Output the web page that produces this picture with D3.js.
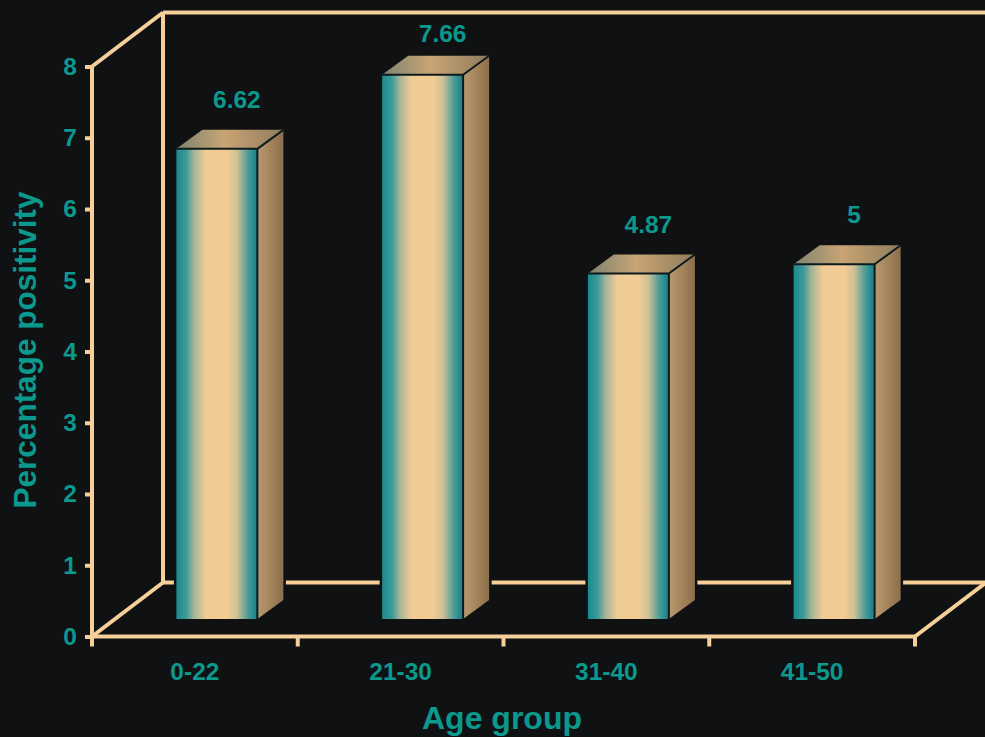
<!DOCTYPE html>
<html>
<head>
<meta charset="utf-8">
<script src="https://cdn.jsdelivr.net/npm/d3@7/dist/d3.min.js"></script>
<style>
  html, body { margin: 0; padding: 0; background: #0f1113; overflow: hidden; }
  text { font-family: "Liberation Sans", Arial, sans-serif; font-weight: bold; fill: #0b988d; }
</style>
</head>
<body>
<svg id="chart" width="985" height="737"></svg>
<script>
const ageGroups = ["0-22", "21-30", "31-40", "41-50"];
const positivity = [6.62, 7.66, 4.87, 5];
const yTicks = [0, 1, 2, 3, 4, 5, 6, 7, 8];

const W = 985, H = 737;
const wallDx = 71, wallDy = -54;      // depth of the chart box
const barW = 81, barDx = 26, barDy = -19, barShift = 22;
const barLift = -16, barFoot = 619;   // bars stand inside the box floor
const axisColor = "#f6cf9a", inkColor = "#0b988d", bgColor = "#0f1113";

const svg = d3.select("#chart");
const x = d3.scaleBand().domain(ageGroups).range([92, 915]).paddingInner(0).paddingOuter(0);
const y = d3.scaleLinear().domain([0, 8]).range([636.5, 66.5]);

svg.append("rect").attr("width", W).attr("height", H).attr("fill", bgColor);

// Gradients for the three visible faces of a bar
const defs = svg.append("defs");
function gradient(id, stops) {
  const g = defs.append("linearGradient").attr("id", id)
    .attr("x1", 0).attr("y1", 0).attr("x2", 1).attr("y2", 0);
  stops.forEach(([o, c]) => g.append("stop").attr("offset", o).attr("stop-color", c));
}
gradient("front", [[0, "#1a8a8c"], [0.12, "#3c9a98"], [0.22, "#a5b598"], [0.36, "#f0cb94"],
                   [0.62, "#f3cc94"], [0.75, "#cfc095"], [0.88, "#4f9c98"], [1, "#0f8088"]]);
gradient("side", [[0, "#b89a70"], [0.5, "#a5845c"], [1, "#8c6f4c"]]);
gradient("top", [[0, "#7c8370"], [0.45, "#c9a474"], [1, "#8f7c5c"]]);

// Chart box: back wall, floor edges and side edges
const x0 = x.range()[0], x1 = x.range()[1], yb = y(0), yt = y(8);
const boxLines = [
  [[x0 + wallDx, yb + wallDy], [W + 2, yb + wallDy]],
  [[x0 + wallDx, yt + wallDy], [W + 2, yt + wallDy]],
  [[x0 + wallDx, yt + wallDy], [x0 + wallDx, yb + wallDy]],
  [[x0, yt], [x0 + wallDx, yt + wallDy]],
  [[x0, yb], [x0 + wallDx, yb + wallDy]],
  [[x1, yb], [x1 + wallDx, yb + wallDy]]
];
const line = d3.line();
svg.append("g").selectAll("path").data(boxLines).join("path")
  .attr("d", d => line(d)).attr("fill", "none")
  .attr("stroke", axisColor).attr("stroke-width", 4);

// Bars
const bars = svg.append("g").selectAll("g").data(positivity).join("g");
const left = (d, i) => x(ageGroups[i]) + x.bandwidth() / 2 - barW / 2 + barShift;
const poly = pts => line(pts) + "Z";

bars.append("path") // dark outline that interrupts the back floor edge
  .attr("d", (d, i) => {
    const l = left(d, i), r = l + barW, t = y(d) + barLift;
    return poly([[l, barFoot], [l, t], [l + barDx, t + barDy], [r + barDx, t + barDy],
                 [r + barDx, barFoot + barDy], [r, barFoot]]);
  })
  .attr("fill", bgColor).attr("stroke", bgColor).attr("stroke-width", 5);

bars.append("path")
  .attr("d", (d, i) => {
    const l = left(d, i), r = l + barW, t = y(d) + barLift;
    return poly([[r, t], [r + barDx, t + barDy], [r + barDx, barFoot + barDy], [r, barFoot]]);
  })
  .attr("fill", "url(#side)");

bars.append("path")
  .attr("d", (d, i) => {
    const l = left(d, i), r = l + barW, t = y(d) + barLift;
    return poly([[l, t], [l + barDx, t + barDy], [r + barDx, t + barDy], [r, t]]);
  })
  .attr("fill", "url(#top)");

bars.append("rect")
  .attr("x", left)
  .attr("y", d => y(d) + barLift)
  .attr("width", barW)
  .attr("height", d => barFoot - (y(d) + barLift))
  .attr("fill", "url(#front)");

bars.append("path") // thin dark seams between the faces
  .attr("d", (d, i) => {
    const l = left(d, i), r = l + barW, t = y(d) + barLift;
    return line([[l, t], [r, t], [r, barFoot]]) + line([[r, t], [r + barDx, t + barDy]]);
  })
  .attr("fill", "none").attr("stroke", "#0c1a1e").attr("stroke-width", 2);

// Value labels above each bar, kept clear of the box's top edge
bars.append("text")
  .attr("x", (d, i) => left(d, i) + barW / 2 + 20)
  .attr("y", d => Math.max(y(d) + barLift + barDy - 22, 42))
  .attr("text-anchor", "middle")
  .attr("font-size", 24.5)
  .text(d => d);

// Axes
const yAxis = d3.axisLeft(y).tickValues(yTicks).tickFormat(d3.format("d")).tickSize(7).tickPadding(8);
const gy = svg.append("g").attr("transform", `translate(${x0},0)`).call(yAxis);
const xAxis = d3.axisBottom(x).tickSize(0).tickPadding(26);
const gx = svg.append("g").attr("transform", `translate(0,${yb})`).call(xAxis);

// Category separators sit on the band edges rather than the band centres
const edges = d3.range(ageGroups.length + 1).map(i => x0 + i * x.step());
gx.selectAll("line.edge").data(edges).join("line").attr("class", "edge")
  .attr("x1", d => d).attr("x2", d => d).attr("y1", 0).attr("y2", 10)
  .attr("stroke", axisColor).attr("stroke-width", 4);

[gy, gx].forEach(g => {
  g.select(".domain").attr("stroke", axisColor).attr("stroke-width", 4);
  g.selectAll(".tick line").attr("stroke", axisColor).attr("stroke-width", 4);
  g.selectAll("text").attr("font-size", 24.5).attr("font-family", null).style("fill", inkColor);
});
gy.select(".domain").attr("d", `M0,${yb}V${yt}`);
gx.select(".domain").attr("d", `M${x0},0H${x1}`);

// Axis titles
svg.append("text").attr("x", 502).attr("y", 729).attr("text-anchor", "middle")
  .attr("font-size", 32).text("Age group");
svg.append("text").attr("transform", "translate(36,350) rotate(-90)").attr("text-anchor", "middle")
  .attr("font-size", 31.5).text("Percentage positivity");
</script>
</body>
</html>
